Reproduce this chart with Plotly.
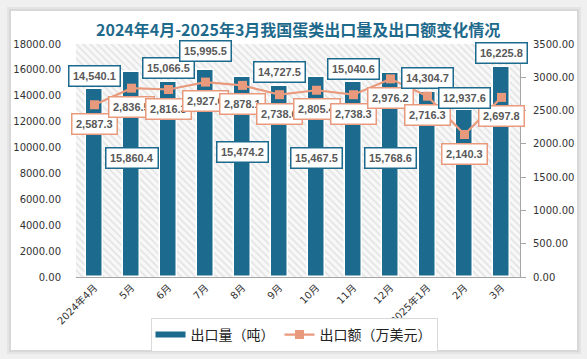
import plotly.graph_objects as go

# ---------------- data ----------------
months = ["2024年4月", "5月", "6月", "7月", "8月", "9月", "10月", "11月", "12月",
          "2025年1月", "2月", "3月"]
export_volume = [14540.1, 15860.4, 15066.5, 15995.5, 15474.2, 14727.5,
                 15467.5, 15040.6, 15768.6, 14304.7, 12937.6, 16225.8]
export_value = [2587.3, 2836.5, 2816.3, 2927.6, 2878.1, 2738.6,
                2805.4, 2738.3, 2976.2, 2716.3, 2140.3, 2697.8]

title_text = "2024年4月-2025年3月我国蛋类出口量及出口额变化情况"
name_volume = "出口量（吨）"
name_value = "出口额（万美元）"

# ---------------- style ----------------
W, H = 587, 359
ML, MR, MT, MB = 76, 67, 44, 82
Y_MAX, Y2_MAX = 18000, 3500
BAR_COLOR = "#1C6A8D"
LINE_COLOR = "#E99A7C"
LABEL_TEXT = "#595959"
# pixel offsets of the value labels (positive = up)
vol_label_shift = [13, -86, 14, 19, -75, 14, -81, 13, -85, 14, 12, 14]
val_label_shift = -19

pw = W - ML - MR
ph = H - MT - MB


def px_x(p):
    return (p - ML) / pw


def px_y(p):
    return (H - MB - p) / ph


fig = go.Figure()

# hatched plot background
fig.add_trace(go.Bar(
    x=months, y=[Y_MAX] * len(months), width=1,
    marker=dict(color="white", line=dict(width=0),
                pattern=dict(shape="\\", fgcolor="#cccccc", bgcolor="#f8f8f8",
                             size=5, solidity=0.3)),
    hoverinfo="skip", showlegend=False, yaxis="y"))

fig.add_trace(go.Bar(
    x=months, y=export_volume, name=name_volume, width=0.46,
    marker=dict(color=BAR_COLOR, line=dict(color="white", width=1.5)),
    showlegend=False, legendgroup="vol", yaxis="y"))

# legend entry for the bars (wide flat swatch like the original)
fig.add_trace(go.Scatter(
    x=[None], y=[None], name=name_volume, mode="lines", legendgroup="vol",
    line=dict(color=BAR_COLOR, width=6), yaxis="y"))

fig.add_trace(go.Scatter(
    x=months, y=export_value, name=name_value, mode="lines+markers",
    line=dict(color=LINE_COLOR, width=2.2),
    marker=dict(symbol="square", size=9, color=LINE_COLOR),
    yaxis="y2"))

label_font = dict(family="Liberation Sans", size=11, color=LABEL_TEXT,
                  weight="bold")
ann = []
for m, v in zip(months, export_value):
    ann.append(dict(x=m, y=v, xref="x", yref="y2", text=f"{v:,.1f}",
                    showarrow=False, yshift=val_label_shift,
                    bgcolor="white", bordercolor=LINE_COLOR, borderwidth=1.5,
                    borderpad=3.5, font=label_font))
for m, v, s in zip(months, export_volume, vol_label_shift):
    ann.append(dict(x=m, y=v, xref="x", yref="y", text=f"{v:,.1f}",
                    showarrow=False, yshift=s,
                    bgcolor="white", bordercolor=BAR_COLOR, borderwidth=1.5,
                    borderpad=3.5, font=label_font))

# title
ann.append(dict(x=0.5, y=px_y(29), xref="paper", yref="paper",
                xanchor="center", yanchor="middle", showarrow=False,
                text=title_text,
                font=dict(family="Noto Sans CJK SC", size=16, color="#1E6A8C",
                          weight="bold")))

shapes = [
    # card shadow
    dict(type="rect", xref="paper", yref="paper", layer="below",
         x0=px_x(7), x1=px_x(581), y0=px_y(354), y1=px_y(7),
         fillcolor="#e4e4e4", line=dict(width=0)),
    dict(type="rect", xref="paper", yref="paper", layer="below",
         x0=px_x(9), x1=px_x(579), y0=px_y(352), y1=px_y(9),
         fillcolor="#d8d8d8", line=dict(width=0)),
    # white card
    dict(type="rect", xref="paper", yref="paper", layer="below",
         x0=px_x(11), x1=px_x(577), y0=px_y(350), y1=px_y(11),
         fillcolor="white", line=dict(width=0)),
]

tick_font = dict(family="DejaVu Sans", size=10, color="#333333")

fig.update_layout(
    width=W, height=H,
    margin=dict(l=ML, r=MR, t=MT, b=MB, autoexpand=False),
    paper_bgcolor="#f0f0f0", plot_bgcolor="rgba(0,0,0,0)",
    barmode="overlay", bargap=0,
    showlegend=True,
    legend=dict(orientation="h", xref="container", yref="container",
                x=294 / W, xanchor="center", y=1 - 318 / H, yanchor="top",
                bordercolor="#d9d9d9", borderwidth=1, bgcolor="white",
                font=dict(family="Noto Sans CJK SC", size=14, color="#222222"),
                itemwidth=30, tracegroupgap=0),
    xaxis=dict(type="category", range=[-0.5, len(months) - 0.5],
               showline=True, linecolor="#a6a6a6", linewidth=1,
               showgrid=False, ticks="", tickangle=-45, automargin=False,
               tickfont=dict(family="DejaVu Sans, Noto Sans CJK SC", size=10,
                             color="#333333")),
    yaxis=dict(range=[0, Y_MAX], dtick=2000, tickformat=".2f",
               showgrid=False, showline=False, zeroline=False, automargin=False,
               ticks="outside", ticklen=12, tickcolor="rgba(0,0,0,0)",
               tickfont=tick_font),
    yaxis2=dict(range=[0, Y2_MAX], dtick=500, tickformat=".2f",
                overlaying="y", side="right", showgrid=False, zeroline=False,
                showline=True, linecolor="#a6a6a6", linewidth=1, automargin=False,
                ticks="outside", ticklen=5, tickcolor="#a6a6a6",
                ticklabelstandoff=5, tickfont=tick_font),
    annotations=ann,
    shapes=shapes,
)

fig.write_html("out.html",
               config={"displayModeBar": False},
               post_script="document.body.style.margin='0px';"
                           "document.body.style.overflow='hidden';")
